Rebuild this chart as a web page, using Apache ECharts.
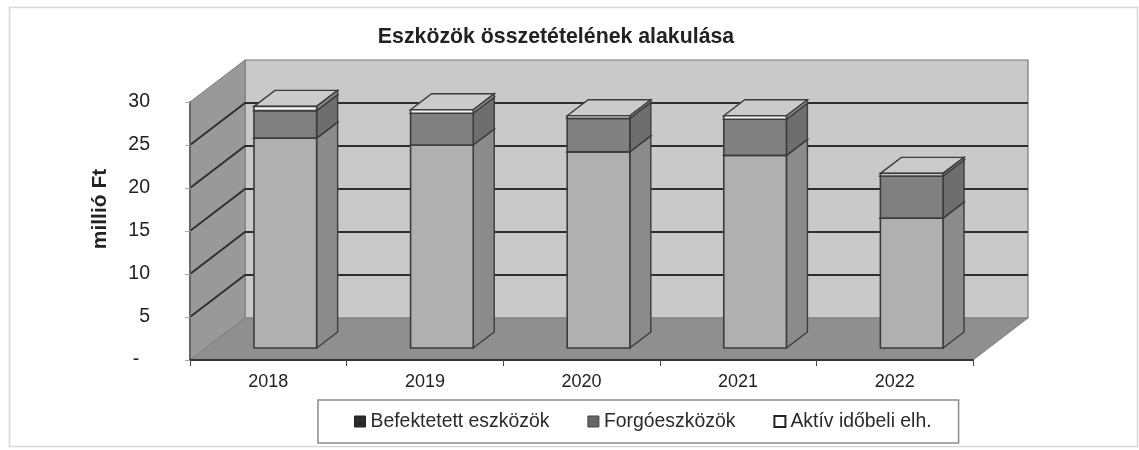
<!DOCTYPE html>
<html>
<head>
<meta charset="utf-8">
<style>html,body{margin:0;padding:0;background:#fff}#c{width:1139px;height:450px}</style>
<script src="https://cdn.jsdelivr.net/npm/echarts@6/dist/echarts.min.js"></script>
</head>
<body>
<div id="c"></div>
<script>
const titleText = 'Eszközök összetételének alakulása';
const yAxisTitle = 'millió Ft';
const categories = ['2018', '2019', '2020', '2021', '2022'];
const befektetett = [24.4, 23.6, 22.8, 22.4, 15.1];
const forgo = [3.2, 3.7, 3.9, 4.2, 4.9];
const aktiv = [0.5, 0.4, 0.3, 0.4, 0.3];
const gridTicks = [5, 10, 15, 20, 25];

const FONT = '"Liberation Sans", Arial, sans-serif';
const DEPTH = { x: 55, y: -42 };
const BAR_NEAR = { x: 17, y: -12 };
const BAR_FAR = { x: 38, y: -28 };
const BAR_W = 0.4;
const EDGE = '#3c3c3c';

function poly(points, fill, stroke, lw) {
  return { type: 'polygon', shape: { points }, style: { fill, stroke: stroke || 'none', lineWidth: lw || 0 } };
}

function renderWalls(params, api) {
  const c = params.coordSys;
  const l = c.x, r = c.x + c.width, t = c.y, b = c.y + c.height;
  const d = DEPTH;
  return { type: 'group', children: [
    poly([[l + d.x, t + d.y], [r + d.x, t + d.y], [r + d.x, b + d.y], [l + d.x, b + d.y]], '#c9c9c9', '#777777', 1.2),
    poly([[l, t], [l + d.x, t + d.y], [l + d.x, b + d.y], [l, b]], '#999999', '#7c7c7c', 1),
    poly([[l, b], [r, b], [r + d.x, b + d.y], [l + d.x, b + d.y]], '#8f8f8f', '#808080', 1)
  ]};
}

function renderGrid(params, api) {
  const c = params.coordSys;
  const y = api.coord([0, api.value(1)])[1];
  const l = c.x, r = c.x + c.width, d = DEPTH;
  const st = { stroke: '#2e2e2e', lineWidth: 1.8, fill: 'none' };
  return { type: 'polyline', shape: { points: [[l, y], [l + d.x, y + d.y], [r + d.x, y + d.y]] }, style: st };
}

function barRenderer(front, side, top) {
  return function (params, api) {
    const i = api.value(0);
    const p0 = api.coord([i, api.value(1)]);
    const p1 = api.coord([i, api.value(2)]);
    const w = api.size([1, 0])[0] * BAR_W;
    const x0 = p0[0] - w / 2 + BAR_NEAR.x, x1 = x0 + w;
    const yb = p0[1] + BAR_NEAR.y, yt = p1[1] + BAR_NEAR.y;
    const dx = BAR_FAR.x - BAR_NEAR.x, dy = BAR_FAR.y - BAR_NEAR.y;
    return { type: 'group', children: [
      poly([[x0, yt], [x1, yt], [x1 + dx, yt + dy], [x0 + dx, yt + dy]], top, EDGE, 1.4),
      poly([[x1, yb], [x1 + dx, yb + dy], [x1 + dx, yt + dy], [x1, yt]], side, EDGE, 1.4),
      poly([[x0, yb], [x1, yb], [x1, yt], [x0, yt]], front, EDGE, 1.6)
    ]};
  };
}

function stacked() {
  const rows = [[], [], []];
  categories.forEach(function (_, i) {
    const a = befektetett[i], b = a + forgo[i], c = b + aktiv[i];
    rows[0].push([i, 0, a]);
    rows[1].push([i, a, b]);
    rows[2].push([i, b, c]);
  });
  return rows;
}
const rows = stacked();

const chart = echarts.init(document.getElementById('c'), null, { renderer: 'canvas' });
chart.setOption({
  animation: false,
  backgroundColor: '#ffffff',
  title: {
    text: titleText, left: 551, top: 22, textAlign: 'center',
    textStyle: { fontFamily: FONT, fontSize: 21.3, fontWeight: 'bold', color: '#222' }
  },
  legend: {
    left: 318, top: 400,
    padding: [12, 27, 12, 36],
    borderColor: '#8c8c8c', borderWidth: 1.5, backgroundColor: '#fff',
    itemWidth: 11, itemHeight: 11, itemGap: 38,
    textStyle: { fontFamily: FONT, fontSize: 19.4, color: '#2a2a2a', padding: [0, 0, 0, 0] },
    data: [
      { name: 'Befektetett eszközök', icon: 'rect', itemStyle: { color: '#2a2a2a', borderColor: '#222', borderWidth: 1 } },
      { name: 'Forgóeszközök', icon: 'rect', itemStyle: { color: '#666666', borderColor: '#444', borderWidth: 1 } },
      { name: 'Aktív időbeli elh.', icon: 'rect', itemStyle: { color: '#ffffff', borderColor: '#222', borderWidth: 2 } }
    ]
  },
  grid: { left: 190, right: 166, top: 102, bottom: 90 },
  xAxis: {
    type: 'category', data: categories, z: 5,
    axisLine: { lineStyle: { color: '#333', width: 1.8 } },
    axisTick: { show: true, length: 6, alignWithLabel: false, lineStyle: { color: '#444' } },
    axisLabel: { fontFamily: FONT, fontSize: 18, color: '#222', margin: 13 },
    splitLine: { show: false }
  },
  yAxis: {
    type: 'value', min: 0, max: 30, interval: 5, z: 5,
    name: yAxisTitle, nameLocation: 'middle', nameGap: 79, nameRotate: 90,
    nameTextStyle: { fontFamily: FONT, fontSize: 21, fontWeight: 'bold', color: '#222', padding: [0, 0, 0, 44] },
    axisLine: { show: true, lineStyle: { color: '#666', width: 2 } },
    axisTick: { show: true, length: 5, lineStyle: { color: '#aaa' } },
    axisLabel: {
      fontFamily: FONT, fontSize: 19.5, color: '#222', margin: 40,
      formatter: function (v) { return v === 0 ? '-  ' : String(v); }
    },
    splitLine: { show: false }
  },
  graphic: [{
    type: 'rect', z: -10, silent: true,
    shape: { x: 9.5, y: 7.5, width: 1128, height: 439 },
    style: { fill: 'none', stroke: '#d8d8d8', lineWidth: 1.5 }
  }],
  series: [
    { type: 'custom', name: 'walls', coordinateSystem: 'cartesian2d', z: 1, clip: false, silent: true,
      data: [[0, 0]], encode: { x: 0, y: 1 }, renderItem: renderWalls },
    { type: 'custom', name: 'grid', coordinateSystem: 'cartesian2d', z: 1, clip: false, silent: true,
      data: gridTicks.map(function (v) { return [0, v]; }), encode: { x: 0, y: 1 }, renderItem: renderGrid },
    { type: 'custom', name: 'Befektetett eszközök', coordinateSystem: 'cartesian2d', z: 3, clip: false,
      itemStyle: { color: '#2a2a2a' }, data: rows[0], encode: { x: 0, y: [1, 2] }, renderItem: barRenderer('#b0b0b0', '#8b8b8b', '#c8c8c8') },
    { type: 'custom', name: 'Forgóeszközök', coordinateSystem: 'cartesian2d', z: 3, clip: false,
      itemStyle: { color: '#666666' }, data: rows[1], encode: { x: 0, y: [1, 2] }, renderItem: barRenderer('#808080', '#6e6e6e', '#c8c8c8') },
    { type: 'custom', name: 'Aktív időbeli elh.', coordinateSystem: 'cartesian2d', z: 3, clip: false,
      itemStyle: { color: '#ffffff' }, data: rows[2], encode: { x: 0, y: [1, 2] }, renderItem: barRenderer('#f4f4f4', '#8d8d8d', '#cbcbcb') }
  ]
});
</script>
</body>
</html>
